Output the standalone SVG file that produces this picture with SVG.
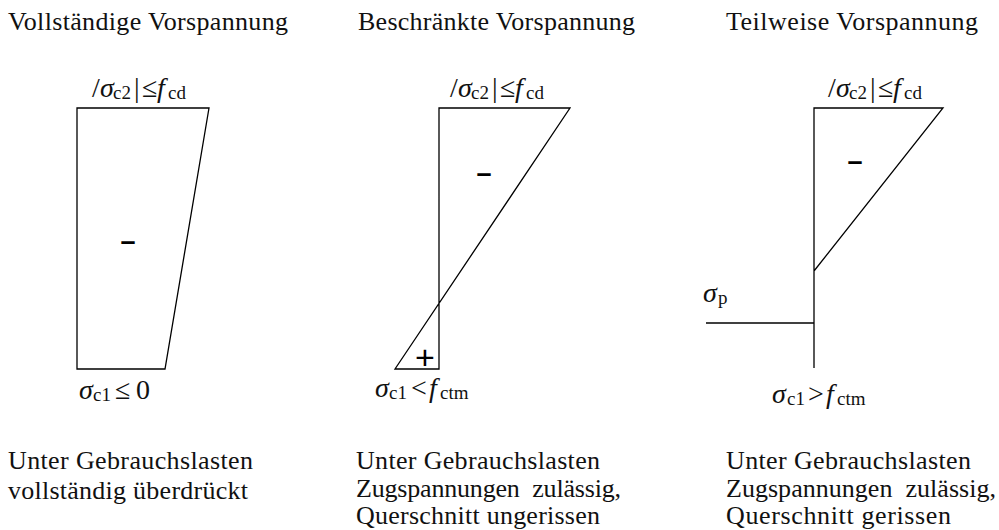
<svg xmlns="http://www.w3.org/2000/svg" width="999" height="530" viewBox="0 0 999 530">
<style>
  .t { font-family: "Liberation Serif", "Times New Roman", serif; font-size: 26px; fill: #111; white-space: pre; }
  .m { font-family: "Liberation Serif", "Times New Roman", serif; font-size: 28px; fill: #111; }
  .i { font-style: italic; }
  .s { font-size: 19px; }
  .ln { fill: none; stroke: #000; stroke-width: 1.3; }
  .sg { font-family: "Liberation Sans", Arial, sans-serif; fill: #000; text-anchor: middle; }
</style>
<rect width="999" height="530" fill="#fff"/>

<g id="panel1">
  <text class="t" x="8" y="30" textLength="280" lengthAdjust="spacing">Vollständige Vorspannung</text>
  <text class="m" y="97"><tspan x="92">/</tspan><tspan class="i" x="100">σ</tspan><tspan class="s" x="113" y="99">c2</tspan><tspan x="134" y="97">|</tspan><tspan x="142">≤</tspan><tspan class="i" x="157">f</tspan><tspan class="s" x="168" y="99">cd</tspan></text>
  <polygon class="ln" points="77,108 209,108 165,369 77,369"/>
  <text class="sg" x="128" y="250" font-size="27" font-weight="bold">–</text>
  <text class="m" y="399"><tspan class="i" x="79">σ</tspan><tspan class="s" x="93" y="401">c1</tspan><tspan x="115" y="399">≤</tspan><tspan x="136">0</tspan></text>
  <text class="t" x="8" y="469" textLength="245" lengthAdjust="spacing">Unter Gebrauchslasten</text>
  <text class="t" x="8" y="499" textLength="240" lengthAdjust="spacing">vollständig überdrückt</text>
</g>

<g id="panel2">
  <text class="t" x="358" y="30" textLength="277" lengthAdjust="spacing">Beschränkte Vorspannung</text>
  <text class="m" y="97"><tspan x="450">/</tspan><tspan class="i" x="458">σ</tspan><tspan class="s" x="471" y="99">c2</tspan><tspan x="492" y="97">|</tspan><tspan x="500">≤</tspan><tspan class="i" x="515">f</tspan><tspan class="s" x="526" y="99">cd</tspan></text>
  <polygon class="ln" points="439,108 570,108 395,369 439,369"/>
  <text class="sg" x="484" y="182" font-size="27" font-weight="bold">–</text>
  <text class="sg" x="425" y="369" font-size="34">+</text>
  <text class="m" y="397"><tspan class="i" x="375">σ</tspan><tspan class="s" x="389" y="399">c1</tspan><tspan x="411" y="397">&lt;</tspan><tspan class="i" x="429">f</tspan><tspan class="s" x="440" y="399">ctm</tspan></text>
  <text class="t" x="356" y="469" textLength="244" lengthAdjust="spacing">Unter Gebrauchslasten</text>
  <text class="t" x="356" y="497" textLength="265" lengthAdjust="spacing">Zugspannungen  zulässig,</text>
  <text class="t" x="356" y="524" textLength="244" lengthAdjust="spacing">Querschnitt ungerissen</text>
</g>

<g id="panel3">
  <text class="t" x="726" y="30" textLength="252" lengthAdjust="spacing">Teilweise Vorspannung</text>
  <text class="m" y="97"><tspan x="828">/</tspan><tspan class="i" x="836">σ</tspan><tspan class="s" x="849" y="99">c2</tspan><tspan x="870" y="97">|</tspan><tspan x="878">≤</tspan><tspan class="i" x="893">f</tspan><tspan class="s" x="904" y="99">cd</tspan></text>
  <polyline class="ln" points="814,368 814,108 943,108 814,271"/>
  <line class="ln" x1="706" y1="323" x2="814" y2="323"/>
  <text class="sg" x="855" y="170" font-size="27" font-weight="bold">–</text>
  <text class="m" y="302"><tspan class="i" x="703">σ</tspan><tspan class="s" x="718" y="304">p</tspan></text>
  <text class="m" y="403"><tspan class="i" x="772">σ</tspan><tspan class="s" x="787" y="405">c1</tspan><tspan x="808" y="403">&gt;</tspan><tspan class="i" x="826">f</tspan><tspan class="s" x="837" y="405">ctm</tspan></text>
  <text class="t" x="726" y="469" textLength="245" lengthAdjust="spacing">Unter Gebrauchslasten</text>
  <text class="t" x="726" y="497" textLength="270" lengthAdjust="spacing">Zugspannungen  zulässig,</text>
  <text class="t" x="726" y="524" textLength="225" lengthAdjust="spacing">Querschnitt gerissen</text>
</g>
</svg>
